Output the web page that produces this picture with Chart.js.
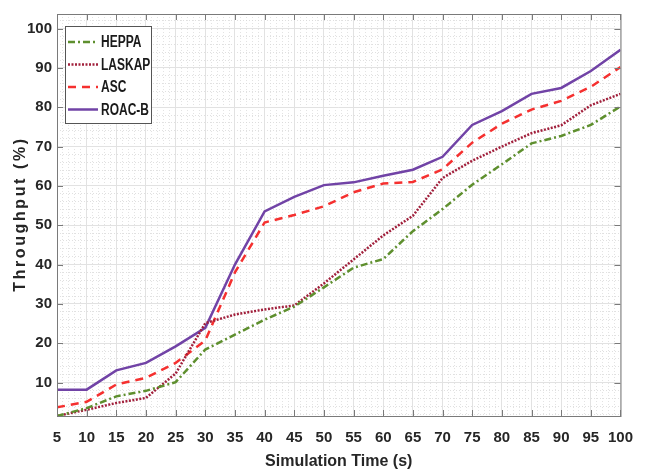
<!DOCTYPE html>
<html>
<head>
<meta charset="utf-8">
<script src="https://cdn.jsdelivr.net/npm/chart.js@4/dist/chart.umd.min.js"></script>
<style>
  html, body { margin: 0; padding: 0; background: #fff; }
  #wrap { width: 646px; height: 471px; }
</style>
</head>
<body>
<div id="wrap"><canvas id="thrCha" width="646" height="471"></canvas></div>
<script>
const simTime = [5, 10, 15, 20, 25, 30, 35, 40, 45, 50, 55, 60, 65, 70, 75, 80, 85, 90, 95, 100];
const heppa  = [1.5, 3.5, 6.5, 7.9, 10.1, 18.4, 22.2, 26, 29.3, 34.2, 39.2, 41.4, 48.5, 54.1, 60.3, 65.5, 70.8, 72.7, 75.5, 80.2];
const laskap = [1.5, 3.1, 4.8, 6.1, 12.3, 25.1, 27.3, 28.6, 29.6, 35.2, 41.3, 47.4, 52.4, 62, 66.4, 70, 73.4, 75.4, 80.5, 83.4];
const asc    = [3.7, 5.1, 9.5, 11.2, 15, 20.7, 38, 50.7, 52.6, 54.8, 58.4, 60.6, 61, 64.2, 71, 75.8, 79.4, 81.6, 85.2, 90.2];
const roacB  = [8.2, 8.2, 13.1, 15, 19.2, 23.9, 40, 53.5, 57.2, 60.2, 60.9, 62.6, 64.1, 67.4, 75.5, 79, 83.4, 84.9, 89.2, 94.6];
const yTicks = [10, 20, 30, 40, 50, 60, 70, 80, 90, 100];

const sans = "'Liberation Sans', Arial, sans-serif";
const tickCol = '#262626';

function pts(arr) {
    return arr.map((v, i) => ({ x: simTime[i], y: v }));
}

// legend box + inner tick marks + box, MATLAB style
const boxPlugin = {
    id: 'boxPlugin',
    afterDraw(chart) {
        const ctx = chart.ctx;
        const a = chart.chartArea;
        const xs = chart.scales.x, ys = chart.scales.y;
        ctx.save();
        ctx.strokeStyle = '#7a7a7a';
        ctx.lineWidth = 1;
        ctx.beginPath();
        xs.ticks.forEach(t => {
            const px = Math.round(xs.getPixelForValue(t.value)) + 0.5;
            ctx.moveTo(px, a.bottom); ctx.lineTo(px, a.bottom - 6);
            ctx.moveTo(px, a.top); ctx.lineTo(px, a.top + 6);
        });
        ys.ticks.forEach(t => {
            const py = Math.round(ys.getPixelForValue(t.value)) + 0.5;
            ctx.moveTo(a.left, py); ctx.lineTo(a.left + 6, py);
            ctx.moveTo(a.right, py); ctx.lineTo(a.right - 6, py);
        });
        ctx.stroke();
        ctx.strokeRect(a.left + 0.5, a.top + 0.5, a.right - a.left, a.bottom - a.top);

        // legend
        const lx = 65, ly = 26, lw = 86, lh = 97;
        ctx.fillStyle = '#fff';
        ctx.fillRect(lx, ly, lw, lh);
        ctx.strokeStyle = '#555';
        ctx.strokeRect(lx + 0.5, ly + 0.5, lw, lh);
        ctx.textBaseline = 'middle';
        chart.data.datasets.forEach((ds, i) => {
            const yy = ly + 16 + i * 22.5;
            ctx.strokeStyle = ds.borderColor;
            ctx.lineWidth = ds.borderWidth;
            ctx.setLineDash(ds.borderDash || []);
            ctx.beginPath();
            ctx.moveTo(lx + 3, yy); ctx.lineTo(lx + 33, yy);
            ctx.stroke();
            ctx.setLineDash([]);
            ctx.fillStyle = '#1a1a1a';
            ctx.save();
            ctx.translate(lx + 36, yy + 1);
            ctx.scale(0.8, 1.05);
            ctx.font = "bold 15px " + sans;
            ctx.fillText(ds.label, 0, 0);
            ctx.restore();
        });

        // y title, spaced out
        ctx.translate(21, 214);
        ctx.rotate(-Math.PI / 2);
        ctx.font = "bold 16px " + sans;
        ctx.letterSpacing = '2.6px';
        ctx.textAlign = 'center';
        ctx.fillStyle = '#262626';
        ctx.fillText('Throughput (%)', 0, 0);
        ctx.restore();
    }
};

new Chart(document.getElementById('thrCha').getContext('2d'), {
    type: 'line',
    data: {
        datasets: [
            { label: 'HEPPA', data: pts(heppa), borderColor: '#5e8f2e', borderWidth: 2.5, borderDash: [7, 3, 2, 3] },
            { label: 'LASKAP', data: pts(laskap), borderColor: '#a1203c', borderWidth: 2.5, borderDash: [2, 1.5] },
            { label: 'ASC', data: pts(asc), borderColor: '#f5302f', borderWidth: 2.5, borderDash: [8, 6] },
            { label: 'ROAC-B', data: pts(roacB), borderColor: '#7143a6', borderWidth: 2.5 }
        ].map(d => Object.assign(d, { fill: false, pointRadius: 0, tension: 0, backgroundColor: d.borderColor }))
    },
    options: {
        responsive: false,
        animation: false,
        layout: { padding: { top: 13, right: 20, left: 0, bottom: 0 } },
        plugins: { legend: { display: false }, tooltip: { enabled: false } },
        scales: {
            xMinor: {
                type: 'linear', position: 'bottom', min: 5, max: 100,
                ticks: { display: false, stepSize: 1 },
                grid: { color: '#dcdcdc', lineWidth: 0.8, tickLength: 0 },
                border: { display: false, dash: [1, 2] },
                afterFit(s) { s.height = 0; }
            },
            yMinor: {
                type: 'linear', position: 'left', min: 1.5, max: 103.7,
                ticks: { display: false, stepSize: 2 },
                grid: { color: '#d8d8d8', lineWidth: 0.8, tickLength: 0 },
                border: { display: false, dash: [1, 2] },
                afterBuildTicks(s) {
                    const t = [];
                    for (let v = 2; v <= 102; v += 2) t.push({ value: v });
                    s.ticks = t;
                },
                afterFit(s) { s.width = 0; }
            },
            x: {
                type: 'linear', position: 'bottom', min: 5, max: 100,
                ticks: { stepSize: 5, color: tickCol, font: { family: sans, weight: 'bold', size: 15 }, padding: 13, maxRotation: 0, minRotation: 0, autoSkip: false },
                grid: { color: '#e2e2e2', lineWidth: 1, tickLength: 0 },
                border: { display: false },
                title: { display: true, text: 'Simulation Time (s)', color: tickCol, font: { family: sans, weight: 'bold', size: 16 }, padding: { top: 0, bottom: 0 } },
                afterFit(s) { s.height = 55; }
            },
            y: {
                type: 'linear', position: 'left', min: 1.5, max: 103.7,
                ticks: { color: tickCol, font: { family: sans, weight: 'bold', size: 15 }, padding: 5 },
                grid: { color: '#e2e2e2', lineWidth: 1, tickLength: 0 },
                border: { display: false },
                afterBuildTicks(s) { s.ticks = yTicks.map(v => ({ value: v })); },
                afterFit(s) { s.width = 57; }
            }
        }
    },
    plugins: [boxPlugin]
});
</script>
</body>
</html>
